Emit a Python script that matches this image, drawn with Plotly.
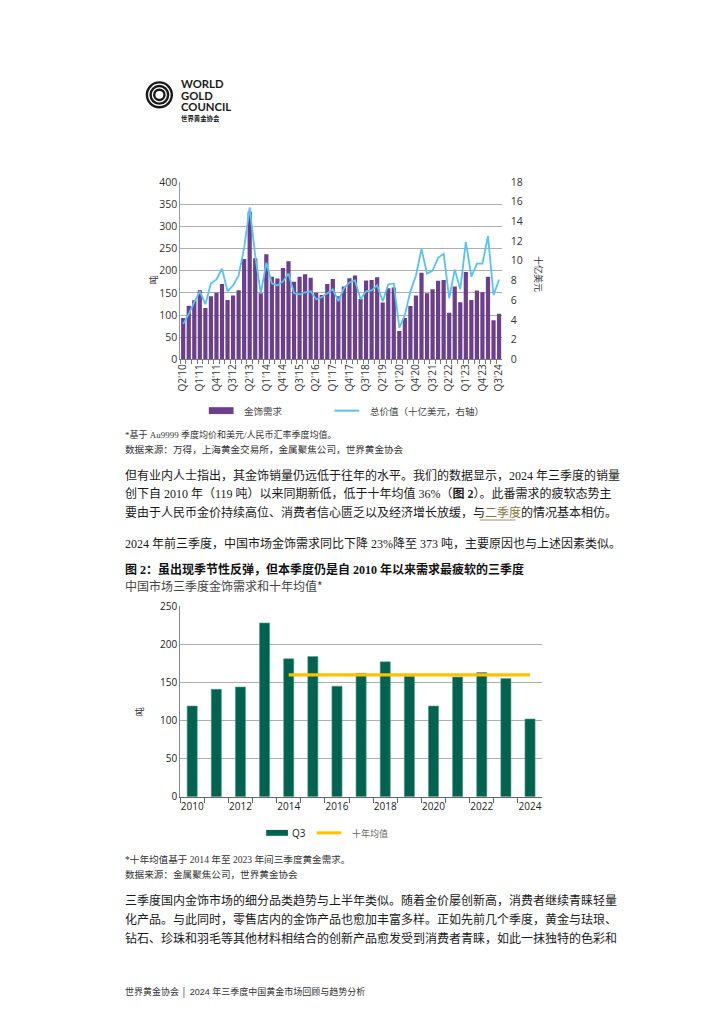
import plotly.graph_objects as go

# ---------------- data ----------------
quarters = ["Q2'10","Q3'10","Q4'10",
            "Q1'11","Q2'11","Q3'11","Q4'11",
            "Q1'12","Q2'12","Q3'12","Q4'12",
            "Q1'13","Q2'13","Q3'13","Q4'13",
            "Q1'14","Q2'14","Q3'14","Q4'14",
            "Q1'15","Q2'15","Q3'15","Q4'15",
            "Q1'16","Q2'16","Q3'16","Q4'16",
            "Q1'17","Q2'17","Q3'17","Q4'17",
            "Q1'18","Q2'18","Q3'18","Q4'18",
            "Q1'19","Q2'19","Q3'19","Q4'19",
            "Q1'20","Q2'20","Q3'20","Q4'20",
            "Q1'21","Q2'21","Q3'21","Q4'21",
            "Q1'22","Q2'22","Q3'22","Q4'22",
            "Q1'23","Q2'23","Q3'23","Q4'23",
            "Q1'24","Q2'24","Q3'24"]
quarter_tick_labels = ["Q2'10","Q1'11","Q4'11","Q3'12","Q2'13","Q1'14","Q4'14",
                       "Q3'15","Q2'16","Q1'17","Q4'17","Q3'18","Q2'19","Q1'20",
                       "Q4'20","Q3'21","Q2'22","Q1'23","Q4'23","Q3'24"]
jewellery_tonnes = [93,121,133,156,116,142,150,170,134,144,156,226,333,228,149,
                    237,186,182,206,221,175,186,192,184,150,145,170,181,142,164,
                    183,189,136,178,179,185,128,160,162,64,93,120,144,195,149,
                    158,177,179,105,164,129,197,134,155,151,186,88,103]
value_usd_bn = [3.6,4.6,5.8,6.9,5.6,7.7,8.1,9.2,6.9,7.5,8.5,11.3,15.4,10.5,6.7,
                9.8,7.7,7.5,7.9,8.7,6.7,6.6,6.8,6.9,6.1,6.3,6.7,7.1,5.9,7.2,
                7.8,8.0,6.1,6.9,7.0,7.5,5.9,7.6,7.7,3.2,4.5,6.9,8.5,11.2,8.7,
                9.0,10.3,10.7,6.2,9.1,7.1,11.9,8.4,9.7,9.7,12.5,6.5,8.1]

years = ["2010","2011","2012","2013","2014","2015","2016","2017","2018",
         "2019","2020","2021","2022","2023","2024"]
year_tick_labels = ["2010","2012","2014","2016","2018","2020","2022","2024"]
q3_tonnes = [119,141,144,228,181,184,145,162,177,158,119,157,163,155,102]
avg_years = ["2014","2015","2016","2017","2018","2019","2020","2021","2022","2023","2024"]
ten_year_avg = 160

# ---------------- styling ----------------
W, H = 724, 1024
PURPLE = "#6c3f8c"
BLUE = "#55c3f3"
TEAL = "#00634f"
GOLD = "#ffc000"
GRID = "#aeaeae"
CJK_SANS = "Noto Sans CJK SC"
SERIF = "Liberation Serif, Noto Sans CJK SC"
NUM = "Open Sans"

def px(x):
    return x / W

def py(y):
    return 1 - y / H

fig = go.Figure()

fig.add_trace(go.Bar(x=quarters, y=jewellery_tonnes, marker_color=PURPLE,
                     marker_line_width=0, xaxis="x", yaxis="y", showlegend=False))
fig.add_trace(go.Scatter(x=quarters, y=value_usd_bn, mode="lines",
                         line=dict(color=BLUE, width=1.8), xaxis="x", yaxis="y2",
                         showlegend=False))
fig.add_trace(go.Bar(x=years, y=q3_tonnes, marker_color=TEAL,
                     marker_line=dict(color="#5a9c8c", width=0.6),
                     xaxis="x2", yaxis="y3", showlegend=False))
fig.add_trace(go.Scatter(x=avg_years, y=[ten_year_avg] * len(avg_years), mode="lines",
                         line=dict(color=GOLD, width=3.2), xaxis="x2", yaxis="y3",
                         showlegend=False))

tick_font = dict(family=NUM, size=10.5, color="#333333")

layout = dict(
    width=W, height=H, margin=dict(l=0, r=0, t=0, b=0),
    paper_bgcolor="white", plot_bgcolor="white",
    bargap=0.24,
    xaxis=dict(domain=[px(169.3), px(494.3)], type="category",
               range=[-0.5, len(quarters) - 0.5],
               tickvals=quarters,
               ticktext=[q if q in quarter_tick_labels else "" for q in quarters],
               tickangle=-90, tickson="boundaries", ticks="outside", ticklen=4,
               tickcolor="#777777", showline=True, linecolor="#777777", linewidth=1,
               showgrid=False, tickfont=dict(family=NUM, size=10, color="#333333"),
               anchor="y"),
    yaxis=dict(domain=[py(348.5), py(168.3)], range=[0, 400], dtick=50,
               showgrid=True, gridcolor=GRID, gridwidth=1.3,
               showline=True, linecolor="#999999", linewidth=1,
               ticks="", tickfont=tick_font, zeroline=False, anchor="x"),
    yaxis2=dict(overlaying="y", side="right", range=[0, 18], dtick=2,
                showgrid=False, showline=False, zeroline=False, ticks="",
                tickfont=tick_font, anchor="x", ticklabelstandoff=8),
    xaxis2=dict(domain=[px(169), px(535)], type="category",
                range=[-0.5, len(years) - 0.5],
                tickvals=years,
                ticktext=[y if y in year_tick_labels else "" for y in years],
                tickangle=0, tickson="boundaries", ticks="outside", ticklen=5,
                tickcolor="#666666", showline=True, linecolor="#666666", linewidth=1,
                showgrid=False, tickfont=dict(family=NUM, size=10, color="#222222"),
                anchor="y3"),
    yaxis3=dict(domain=[py(792.3), py(599)], range=[0, 250], dtick=50,
                showgrid=True, gridcolor=GRID, gridwidth=1.3,
                showline=True, linecolor="#888888", linewidth=1,
                ticks="", tickfont=dict(family=NUM, size=10, color="#222222"),
                zeroline=False, anchor="x2"),
)
fig.update_layout(**layout)
fig.update_traces(width=0.42, selector=dict(xaxis="x2", type="bar"))

ann = []
shapes = []

def text(x, y, s, size, color="#1a1a1a", family=CJK_SANS, anchor="left", angle=0):
    ann.append(dict(x=px(x), y=py(y), xref="paper", yref="paper", text=s,
                    showarrow=False, xanchor=anchor, yanchor="middle",
                    textangle=angle, borderpad=0,
                    font=dict(family=family, size=size, color=color)))

# ---- logo ----
cx, cy = 148.0, 80.0
for r in [12.6, 8.9, 5.2]:
    shapes.append(dict(type="circle", xref="paper", yref="paper",
                       x0=px(cx - r), x1=px(cx + r), y0=py(cy + r), y1=py(cy - r),
                       line=dict(color="#1a1a1a", width=2.4), fillcolor="rgba(0,0,0,0)"))
for t, yy in [("WORLD", 68.8), ("GOLD", 80.3), ("COUNCIL", 91.8)]:
    text(168.5, yy, "<b>" + t + "</b>", 11.3, "#1a1a1a", "Lato")
text(169, 103.8, "<b>世界黄金协会</b>", 6.4, "#1a1a1a")

# ---- chart 1 axis titles ----
text(142, 268, "吨", 9, "#333333", CJK_SANS, "center", -90)
text(532, 262, "十亿美元", 9, "#333333", CJK_SANS, "center", 90)

# ---- chart 1 legend ----
shapes.append(dict(type="rect", xref="paper", yref="paper", x0=px(198), x1=px(223),
                   y0=py(404), y1=py(397), fillcolor=PURPLE, line=dict(width=0)))
text(233, 400.5, "金饰需求", 9.5, "#444444")
shapes.append(dict(type="line", xref="paper", yref="paper", x0=px(325), x1=px(350),
                   y0=py(400.5), y1=py(400.5), line=dict(color=BLUE, width=2)))
text(360, 400.5, "总价值（十亿美元，右轴）", 9.5, "#444444")

# ---- footnotes 1 ----
text(112, 425, "*基于 Au9999 季度均价和美元/人民币汇率季度均值。", 9, "#333333", SERIF)
text(112, 440, "数据来源：万得，上海黄金交易所，金属聚焦公司，世界黄金协会", 9.6, "#333333", SERIF)

# ---- paragraphs ----
text(112, 466, "但有业内人士指出，其金饰销量仍远低于往年的水平。我们的数据显示，2024 年三季度的销量", 12, "#1a1a1a", SERIF)
text(112, 485, "创下自 2010 年（119 吨）以来同期新低，低于十年均值 36%（<b>图 2</b>）。此番需求的疲软态势主", 12, "#1a1a1a", SERIF)
text(112, 504, "要由于人民币金价持续高位、消费者信心匮乏以及经济增长放缓，与<span style='color:#8a7640'>二季度</span>的情况基本相仿。", 12, "#1a1a1a", SERIF)
shapes.append(dict(type="line", xref="paper", yref="paper", x0=px(472), x1=px(508),
                   y0=py(511.5), y1=py(511.5), line=dict(color="#8a7640", width=0.8)))
text(112, 535, "2024 年前三季度，中国市场金饰需求同比下降 23%降至 373 吨，主要原因也与上述因素类似。", 12, "#1a1a1a", SERIF)

# ---- chart 2 title ----
text(112, 562, "<b>图 2：虽出现季节性反弹，但本季度仍是自 2010 年以来需求最疲软的三季度</b>", 12, "#111111", SERIF)
text(112, 577.5, "中国市场三季度金饰需求和十年均值*", 12, "#444444", CJK_SANS)

# ---- chart 2 axis title ----
text(128, 706, "吨", 9, "#333333", CJK_SANS, "center", -90)

# ---- chart 2 legend ----
shapes.append(dict(type="rect", xref="paper", yref="paper", x0=px(256), x1=px(278),
                   y0=py(832), y1=py(826), fillcolor=TEAL, line=dict(width=0)))
text(281.5, 829, "Q3", 10, "#222222", NUM)
shapes.append(dict(type="line", xref="paper", yref="paper", x0=px(307), x1=px(332),
                   y0=py(829), y1=py(829), line=dict(color=GOLD, width=3)))
text(342, 829.5, "十年均值", 9, "#666666")

# ---- footnotes 2 ----
text(112, 856.5, "*十年均值基于 2014 年至 2023 年间三季度黄金需求。", 9.6, "#333333", SERIF)
text(112, 871.5, "数据来源：金属聚焦公司，世界黄金协会", 9.6, "#333333", SERIF)

# ---- paragraph 3 ----
text(112, 898, "三季度国内金饰市场的细分品类趋势与上半年类似。随着金价屡创新高，消费者继续青睐轻量", 12, "#1a1a1a", SERIF)
text(112, 917, "化产品。与此同时，零售店内的金饰产品也愈加丰富多样。正如先前几个季度，黄金与珐琅、", 12, "#1a1a1a", SERIF)
text(112, 936, "钻石、珍珠和羽毛等其他材料相结合的创新产品愈发受到消费者青睐，如此一抹独特的色彩和", 12, "#1a1a1a", SERIF)

# ---- footer ----
text(112, 991, "世界黄金协会 │ 2024 年三季度中国黄金市场回顾与趋势分析", 9, "#333333", "Liberation Sans, Noto Sans CJK SC")

fig.update_layout(annotations=ann, shapes=shapes)
fig.write_html("out.html")
